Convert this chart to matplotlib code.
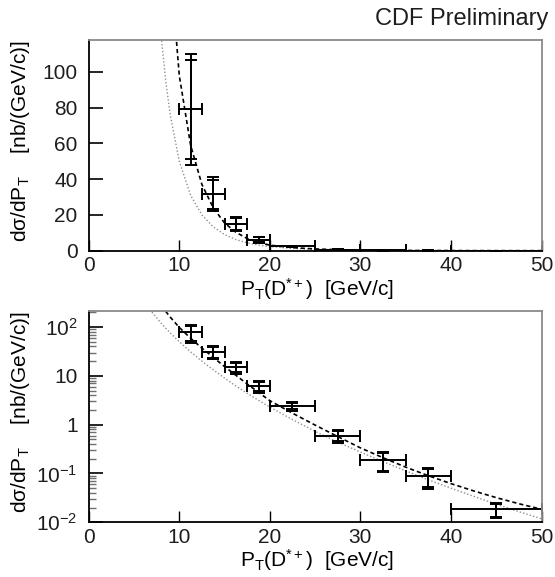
#!/usr/bin/env python3

import matplotlib
matplotlib.use("Agg")
import matplotlib.pyplot as plt
import matplotlib.ticker as mticker
import numpy as np

######################## Set Plot Parameter ##############################

plt.rcParams['font.family'] = ['Liberation Sans', 'DejaVu Sans']
plt.rcParams['mathtext.default'] = 'regular'
plt.rcParams['mathtext.fontset'] = 'custom'
plt.rcParams['mathtext.rm'] = 'Liberation Sans'
plt.rcParams['mathtext.it'] = 'Liberation Sans'
plt.rcParams['font.size'] = 15
plt.rcParams['text.color'] = '#1e1e1e'
plt.rcParams['xtick.labelcolor'] = '#1e1e1e'
plt.rcParams['ytick.labelcolor'] = '#1e1e1e'

FRAME_GRAY = '#8a8a8a'

######################## data ##############################

# measured points: bin centres, half widths, values, errors
pt = [11.25, 13.75, 16.25, 18.75, 22.5, 27.5, 32.5, 37.5, 45.0]
pt_halfwidth = [1.25, 1.25, 1.25, 1.25, 2.5, 2.5, 2.5, 2.5, 5.0]
xsec = [79.0, 31.5, 15.0, 6.2, 2.4, 0.60, 0.19, 0.087, 0.0185]
err_stat = [27.5, 8.0, 3.2, 1.3, 0.35, 0.14, 0.075, 0.035, 0.0055]
err_tot = [31.0, 9.5, 3.9, 1.7, 0.50, 0.17, 0.085, 0.040, 0.0062]

# theory curves
th_pt = [6.5, 7.0, 7.5, 8.0, 8.5, 9.0, 10.0, 11.25, 12.5, 13.75, 15.0, 16.25,
         17.5, 18.75, 20.0, 22.5, 25.0, 27.5, 30.0, 32.5, 35.0, 37.5, 40.0,
         42.5, 45.0, 47.5, 50.0]
th_dashed = [600, 480, 370, 280, 210, 160, 98, 59, 37, 24, 15.5, 10.3,
             6.8, 4.6, 3.1, 1.72, 0.98, 0.57, 0.335, 0.21, 0.135, 0.09, 0.062,
             0.044, 0.032, 0.024, 0.0185]
th_dotted = [260, 200, 155, 120, 95, 76, 50, 31, 20, 13.3, 9.0, 6.2,
             4.4, 3.15, 2.3, 1.27, 0.73, 0.44, 0.275, 0.175, 0.113, 0.074, 0.05,
             0.034, 0.0235, 0.0165, 0.0118]

log_ticks = [1e-2, 1e-1, 1, 10, 100]
log_labels = [r'$10^{-2}$', r'$10^{-1}$', '1', '10', r'$10^{2}$']

######################## plot diagram ########################

fig = plt.figure(figsize=(5.55, 5.77), dpi=100)
ax1 = fig.add_axes([0.1598, 0.5655, 0.816, 0.366])
ax2 = fig.add_axes([0.1598, 0.0948, 0.816, 0.366])


def draw_panel(ax):
    ax.plot(th_pt, th_dotted, color='#909090', lw=1.0, ls=(0, (1, 1.5)))
    ax.plot(th_pt, th_dashed, color='black', lw=1.2, ls=(0, (2.5, 1.8)))
    ax.errorbar(pt, xsec, xerr=pt_halfwidth, yerr=err_tot, fmt='none',
                ecolor='black', elinewidth=1.4, capsize=4, capthick=1.4)
    ax.errorbar(pt, xsec, yerr=err_stat, fmt='none',
                ecolor='black', elinewidth=1.4, capsize=4, capthick=1.4)
    ax.set_xlim(0, 50)
    ax.set_xticks([0, 10, 20, 30, 40, 50])
    ax.tick_params(direction='in', which='both', top=False, right=False,
                   labelsize=15)
    ax.tick_params(axis='x', which='major', length=8, width=1, pad=4)
    ax.tick_params(axis='y', which='major', length=10, width=1.2, pad=8)
    for side in ['top', 'right']:
        ax.spines[side].set_color(FRAME_GRAY)
        ax.spines[side].set_linewidth(1.3)
    for side in ['left', 'bottom']:
        ax.spines[side].set_linewidth(1.3)
    ax.set_xlabel(r'P$_{\rm T}$(D$^{*+}$)  [GeV/c]', fontsize=15)
    ax.set_ylabel(r'd$\sigma$/dP$_{\rm T}$    [nb/(GeV/c)]', fontsize=15)
    ax.yaxis.set_label_coords(-0.125, 0.52)
    ax.xaxis.set_label_coords(0.505, -0.118)


draw_panel(ax1)
ax1.set_ylim(0, 118)
ax1.set_yticks([0, 20, 40, 60, 80, 100])

draw_panel(ax2)
ax2.set_yscale('log')
ax2.set_ylim(1e-2, 212)
ax2.set_yticks(log_ticks)
ax2.set_yticklabels(log_labels)
ax2.yaxis.set_minor_locator(mticker.LogLocator(base=10, subs=np.arange(2, 10)))
ax2.yaxis.set_minor_formatter(mticker.NullFormatter())
ax2.tick_params(axis='y', which='minor', length=5, width=1.0,
                color='#707070')

fig.text(0.988, 0.967, 'CDF Preliminary', ha='right', va='center',
         fontsize=17)

plt.savefig("out.png", dpi=100)
